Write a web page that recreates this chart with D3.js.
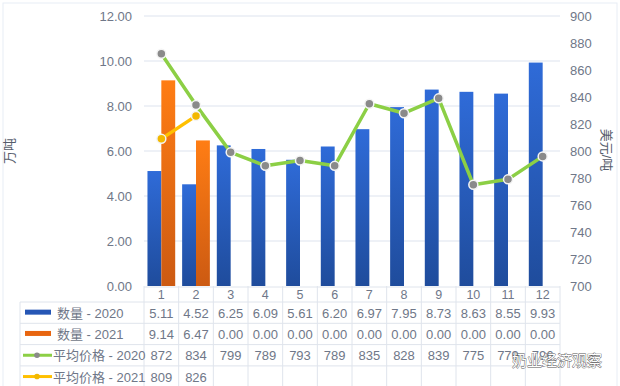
<!DOCTYPE html>
<html>
<head>
<meta charset="utf-8">
<script src="https://cdn.jsdelivr.net/npm/d3@7/dist/d3.min.js"></script>
<style>
  body { margin: 0; background: #fff; }
  svg { display: block; font-family: "Liberation Sans", "Noto Sans CJK SC", sans-serif; }
</style>
</head>
<body>
<svg id="chart"></svg>
<script>
let months = ["1", "2", "3", "4", "5", "6", "7", "8", "9", "10", "11", "12"];
let qty2020 = [5.11, 4.52, 6.25, 6.09, 5.61, 6.20, 6.97, 7.95, 8.73, 8.63, 8.55, 9.93];
let qty2021 = [9.14, 6.47, 0, 0, 0, 0, 0, 0, 0, 0, 0, 0];
let price2020 = [872, 834, 799, 789, 793, 789, 835, 828, 839, 775, 779, 796];
let price2021 = [809, 826];
let leftTicks = [0, 2, 4, 6, 8, 10, 12];
let rightTicks = [700, 720, 740, 760, 780, 800, 820, 840, 860, 880, 900];

function getConfig() {
    let width = 620;
    let height = 386;
    let plot = { left: 144, right: 560, top: 16, bottom: 286 };
    let headerH = 15;
    let rowH = 21.3;
    let tableTop = 287;
    let legendLeft = 20;
    let container = d3.select("#chart")
        .attr("width", width)
        .attr("height", height);
    return { width, height, plot, headerH, rowH, tableTop, legendLeft, container };
}

function getScales(config) {
    let { plot } = config;
    let x = d3.scaleBand().domain(months).range([plot.left, plot.right]);
    let xInner = d3.scaleBand().domain(["2020", "2021"])
        .range([0, x.bandwidth()])
        .paddingOuter(0.25);
    let yLeft = d3.scaleLinear().domain([0, 12]).range([plot.bottom, plot.top]);
    let yRight = d3.scaleLinear().domain([700, 900]).range([plot.bottom, plot.top]);
    return { x, xInner, yLeft, yRight };
}

function drawDefs(container) {
    let defs = container.append("defs");
    let blue = defs.append("linearGradient").attr("id", "gBlue")
        .attr("x1", 0).attr("y1", 0).attr("x2", 0).attr("y2", 1);
    blue.append("stop").attr("offset", "0%").attr("stop-color", "#2f6bd8");
    blue.append("stop").attr("offset", "100%").attr("stop-color", "#1f4c9c");
    let orange = defs.append("linearGradient").attr("id", "gOrange")
        .attr("x1", 0).attr("y1", 0).attr("x2", 0).attr("y2", 1);
    orange.append("stop").attr("offset", "0%").attr("stop-color", "#ff7d14");
    orange.append("stop").attr("offset", "100%").attr("stop-color", "#cc5a12");
}

function drawGridAndAxes(config, scales) {
    let { container, plot, width } = config;
    let { yLeft, yRight } = scales;

    container.append("rect")
        .attr("x", 3).attr("y", 3)
        .attr("width", width - 6).attr("height", 400)
        .attr("fill", "none").attr("stroke", "#e8edf5");

    container.append("g").selectAll("line")
        .data(leftTicks.slice(1))
        .enter().append("line")
        .attr("x1", plot.left).attr("x2", plot.right)
        .attr("y1", d => yLeft(d)).attr("y2", d => yLeft(d))
        .attr("stroke", "#dde3ee");

    container.append("g").selectAll("text")
        .data(leftTicks)
        .enter().append("text")
        .attr("x", 132).attr("y", d => yLeft(d) + 4.5)
        .attr("text-anchor", "end")
        .attr("font-size", 13)
        .attr("fill", "#6f7788")
        .text(d => d.toFixed(2));

    container.append("g").selectAll("text")
        .data(rightTicks)
        .enter().append("text")
        .attr("x", 570).attr("y", d => yRight(d) + 4.5)
        .attr("font-size", 13)
        .attr("fill", "#6f7788")
        .text(d => d);

    container.append("text")
        .attr("transform", "translate(14,151) rotate(-90)")
        .attr("text-anchor", "middle")
        .attr("font-size", 13)
        .attr("fill", "#555c6b")
        .text("万吨");

    container.append("text")
        .attr("transform", "translate(602,150) rotate(90)")
        .attr("text-anchor", "middle")
        .attr("font-size", 13)
        .attr("fill", "#555c6b")
        .text("美元/吨");
}

function drawBars(config, scales) {
    let { container } = config;
    let { x, xInner, yLeft } = scales;
    let series = [
        { key: "2020", values: qty2020, fill: "url(#gBlue)" },
        { key: "2021", values: qty2021, fill: "url(#gOrange)" }
    ];
    series.forEach(s => {
        container.append("g").selectAll("rect")
            .data(s.values.map((v, i) => ({ month: months[i], value: v })).filter(d => d.value > 0))
            .enter().append("rect")
            .attr("x", d => x(d.month) + xInner(s.key))
            .attr("width", xInner.bandwidth())
            .attr("y", d => yLeft(d.value))
            .attr("height", d => yLeft(0) - yLeft(d.value))
            .attr("fill", s.fill);
    });
}

function drawLines(config, scales) {
    let { container } = config;
    let { x, yRight } = scales;
    let cx = m => x(m) + x.bandwidth() / 2;
    let lines = [
        { values: price2020, stroke: "#8ccf45", dot: "#8a8a8a" },
        { values: price2021, stroke: "#ffc000", dot: "#f2b800" }
    ];
    lines.forEach(l => {
        let pts = l.values.map((v, i) => ({ month: months[i], value: v }));
        let line = d3.line().x(d => cx(d.month)).y(d => yRight(d.value));
        container.append("path")
            .datum(pts)
            .attr("d", line)
            .attr("fill", "none")
            .attr("stroke", l.stroke)
            .attr("stroke-width", 3.5)
            .attr("stroke-linejoin", "round");
        container.append("g").selectAll("circle")
            .data(pts)
            .enter().append("circle")
            .attr("cx", d => cx(d.month))
            .attr("cy", d => yRight(d.value))
            .attr("r", 4.5)
            .attr("fill", l.dot)
            .attr("stroke", "#f4f4f4")
            .attr("stroke-width", 1.5);
    });
}

function drawTable(config, scales) {
    let { container, plot, headerH, rowH, tableTop, legendLeft } = config;
    let { x } = scales;
    let g = container.append("g");
    let rows = [
        { label: "数量 - 2020", values: qty2020.map(d => d.toFixed(2)), type: "bar", color: "#2656b5" },
        { label: "数量 - 2021", values: qty2021.map(d => d.toFixed(2)), type: "bar", color: "#e8650f" },
        { label: "平均价格 - 2020", values: price2020.map(String), type: "line", color: "#8ccf45", dot: "#8a8a8a" },
        { label: "平均价格 - 2021", values: price2021.map(String), type: "line", color: "#ffc000", dot: "#f2b800" }
    ];
    let gridColor = "#dfe4ec";
    let rowTop = i => tableTop + headerH + rowH * i;
    let bottom = 390;

    g.append("line")
        .attr("x1", plot.left).attr("x2", plot.right)
        .attr("y1", tableTop).attr("y2", tableTop)
        .attr("stroke", gridColor);
    rows.forEach((r, i) => {
        g.append("line")
            .attr("x1", legendLeft).attr("x2", plot.right)
            .attr("y1", rowTop(i)).attr("y2", rowTop(i))
            .attr("stroke", gridColor);
    });
    let colEdges = months.map(m => x(m)).concat([plot.right]);
    g.selectAll(".vline").data(colEdges)
        .enter().append("line")
        .attr("x1", d => d).attr("x2", d => d)
        .attr("y1", tableTop - 1).attr("y2", bottom)
        .attr("stroke", gridColor);
    g.append("line")
        .attr("x1", legendLeft).attr("x2", legendLeft)
        .attr("y1", rowTop(0)).attr("y2", bottom)
        .attr("stroke", gridColor);

    g.selectAll(".mlabel").data(months)
        .enter().append("text")
        .attr("x", d => x(d) + x.bandwidth() / 2)
        .attr("y", tableTop + 12)
        .attr("text-anchor", "middle")
        .attr("font-size", 12.5)
        .attr("fill", "#6f7788")
        .text(d => d);

    rows.forEach((r, i) => {
        let yMid = rowTop(i) + rowH / 2;
        if (r.type === "bar") {
            g.append("rect")
                .attr("x", 25).attr("y", yMid - 3)
                .attr("width", 26).attr("height", 5)
                .attr("fill", r.color);
            g.append("text")
                .attr("x", 57).attr("y", yMid + 5)
                .attr("font-size", 13)
                .attr("fill", "#6f7788")
                .text(r.label);
        } else {
            g.append("line")
                .attr("x1", 23).attr("x2", 52)
                .attr("y1", yMid).attr("y2", yMid)
                .attr("stroke", r.color).attr("stroke-width", 3);
            g.append("circle")
                .attr("cx", 37).attr("cy", yMid).attr("r", 2.8)
                .attr("fill", r.dot);
            g.append("text")
                .attr("x", 53).attr("y", yMid + 5)
                .attr("font-size", 13)
                .attr("fill", "#6f7788")
                .text(r.label);
        }
        g.selectAll(".v" + i).data(r.values)
            .enter().append("text")
            .attr("x", (d, j) => x(months[j]) + x.bandwidth() / 2)
            .attr("y", yMid + 5)
            .attr("text-anchor", "middle")
            .attr("font-size", 13)
            .attr("fill", "#6f7788")
            .text(d => d);
    });

    // watermark
    g.append("text")
        .attr("x", 512).attr("y", 366)
        .attr("font-size", 15)
        .attr("fill", "#ffffff")
        .attr("stroke", "#555")
        .attr("stroke-width", 0.8)
        .attr("paint-order", "stroke")
        .text("奶业经济观察");
}

function drawChart() {
    let config = getConfig();
    let scales = getScales(config);
    drawDefs(config.container);
    drawGridAndAxes(config, scales);
    drawBars(config, scales);
    drawLines(config, scales);
    drawTable(config, scales);
}

drawChart();
</script>
</body>
</html>
